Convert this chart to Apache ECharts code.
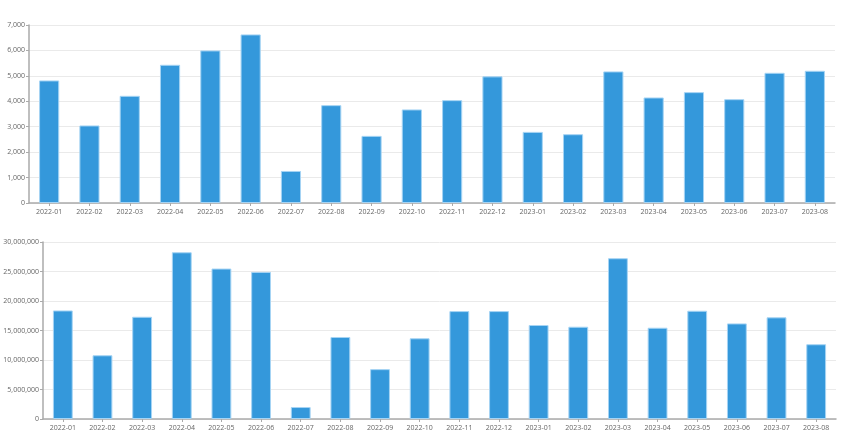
<!DOCTYPE html>
<html>
<head>
<meta charset="utf-8">
<script src="https://cdn.jsdelivr.net/npm/echarts@6/dist/echarts.min.js"></script>
<style>html,body{margin:0;padding:0;background:#fff}#c{width:860px;height:448px}</style>
</head>
<body>
<div id="c"></div>
<script>
const categories = ['2022-01','2022-02','2022-03','2022-04','2022-05','2022-06','2022-07','2022-08','2022-09','2022-10','2022-11','2022-12','2023-01','2023-02','2023-03','2023-04','2023-05','2023-06','2023-07','2023-08'];
const countValues = [4820,3050,4215,5435,6000,6630,1260,3848,2640,3680,4045,4980,2797,2705,5175,4150,4360,4083,5120,5200];
const amountValues = [18400000,10800000,17330000,28260000,25500000,24930000,2030000,13900000,8450000,13680000,18290000,18290000,15930000,15640000,27250000,15470000,18350000,16200000,17230000,12670000];
const topTicks = {min:0,max:7000,interval:1000};
const bottomTicks = {min:0,max:30000000,interval:5000000};

const fmt = v => v.toLocaleString('en-US');
const labelStyle = {color:'#666', fontSize:7, fontFamily:'Open Sans, sans-serif'};
const axisLine = {show:true, lineStyle:{color:'#aaa', width:1.5}};
const barStyle = {color:'#3498db', borderColor:'#a6d4f4', borderWidth:1};

const chart = echarts.init(document.getElementById('c'));
chart.setOption({
  animation:false,
  grid:[
    {left:29, right:25, top:25, height:178, containLabel:false},
    {left:43, right:24, top:242, height:177, containLabel:false}
  ],
  xAxis:[
    {type:'category', gridIndex:0, data:categories, axisLine:axisLine, axisTick:{show:true, alignWithLabel:true, length:3, lineStyle:{color:'#aaa'}}, axisLabel:Object.assign({margin:5, interval:0}, labelStyle)},
    {type:'category', gridIndex:1, data:categories, axisLine:axisLine, axisTick:{show:true, alignWithLabel:true, length:3, lineStyle:{color:'#aaa'}}, axisLabel:Object.assign({margin:5, interval:0}, labelStyle)}
  ],
  yAxis:[
    {type:'value', gridIndex:0, min:topTicks.min, max:topTicks.max, interval:topTicks.interval, axisLine:axisLine, axisTick:{show:true, length:3, lineStyle:{color:'#aaa'}}, splitLine:{lineStyle:{color:'#eaeaea'}}, axisLabel:Object.assign({margin:4, formatter:fmt}, labelStyle)},
    {type:'value', gridIndex:1, min:bottomTicks.min, max:bottomTicks.max, interval:bottomTicks.interval, axisLine:axisLine, axisTick:{show:true, length:3, lineStyle:{color:'#aaa'}}, splitLine:{lineStyle:{color:'#eaeaea'}}, axisLabel:Object.assign({margin:4, formatter:fmt}, labelStyle)}
  ],
  series:[
    {type:'bar', xAxisIndex:0, yAxisIndex:0, data:countValues, barWidth:'50%', itemStyle:barStyle},
    {type:'bar', xAxisIndex:1, yAxisIndex:1, data:amountValues, barWidth:'50%', itemStyle:barStyle}
  ]
});
</script>
</body>
</html>
